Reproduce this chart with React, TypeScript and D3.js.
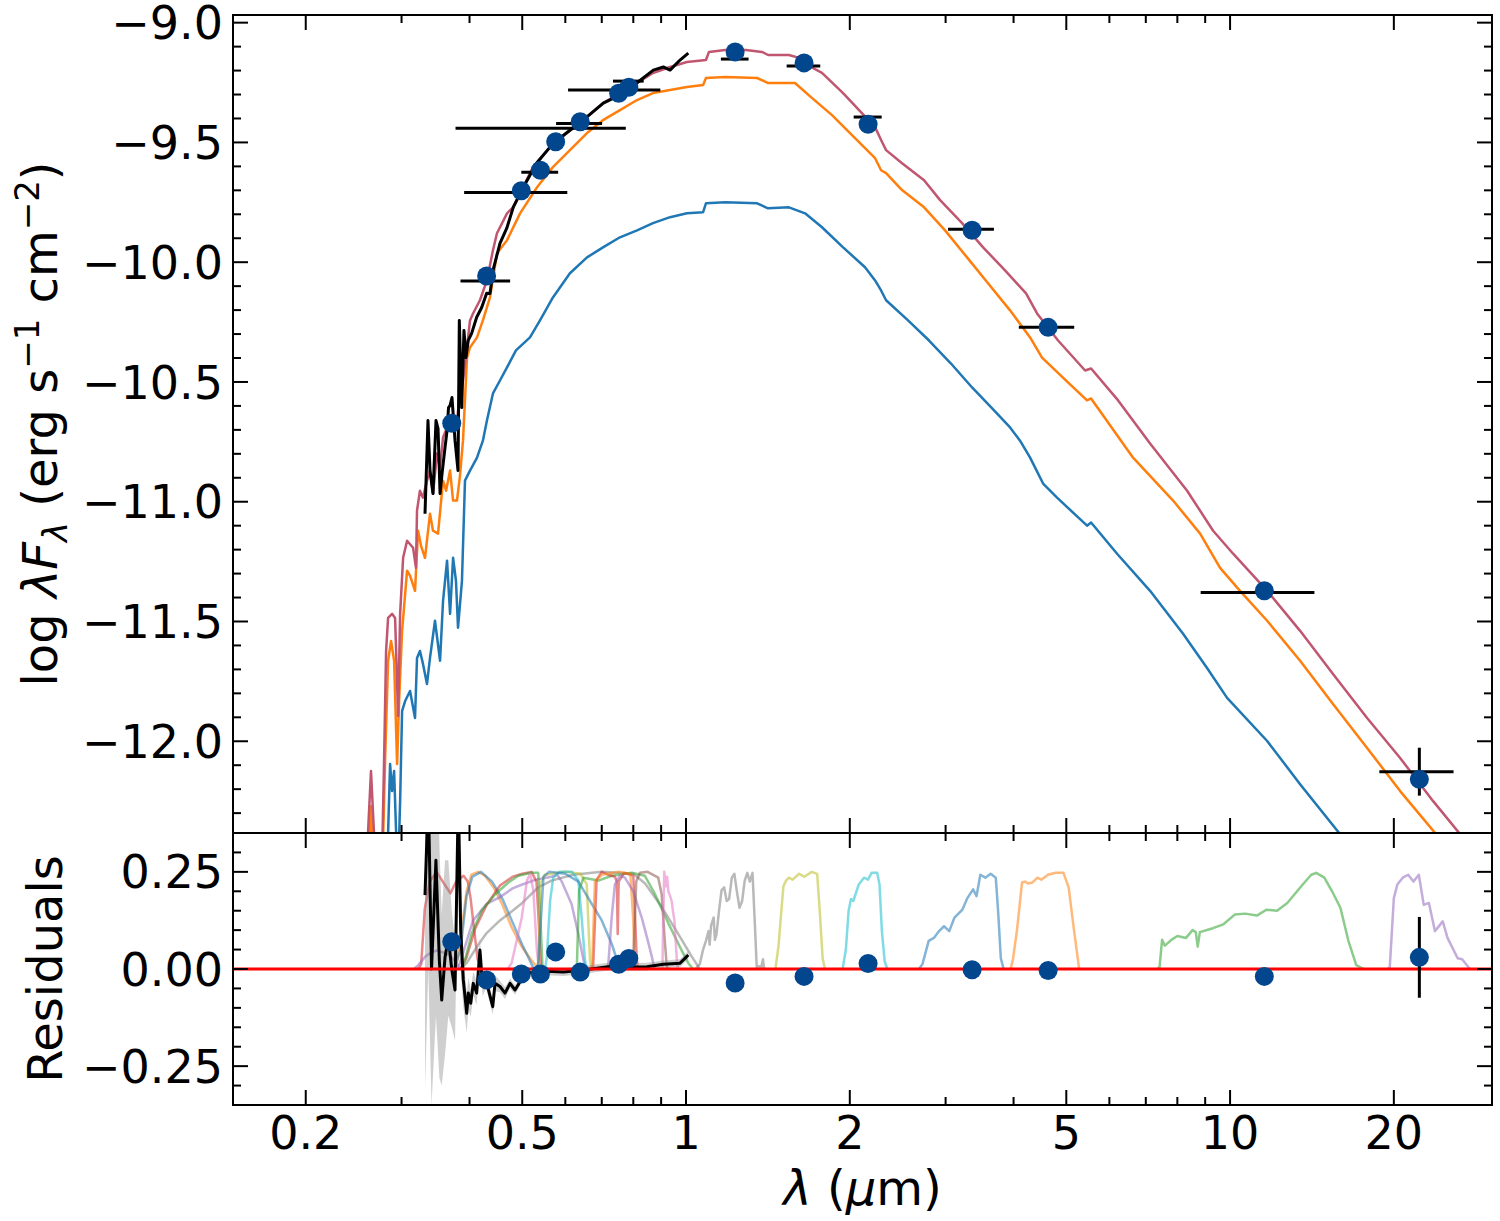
import React from "react";
import * as d3 from "d3";

// ---- photometry (wavelength in micron, log lambda F_lambda) ----
const photWl = [0.371, 0.43, 0.498, 0.54, 0.576, 0.639, 0.752, 0.785, 1.231, 1.648, 2.161, 3.356, 4.63, 11.56, 22.28];
const photWlErr = [0, 0.045, 0.107, 0.042, 0.199, 0.062, 0.145, 0.051, 0.072, 0.117, 0.128, 0.325, 0.54, 2.73, 3.47];
const photFlux = [-10.672, -10.058, -9.702, -9.616, -9.497, -9.414, -9.295, -9.27, -9.122, -9.168, -9.424, -9.867, -10.272, -11.372, -12.159];
const photBarFlux = [-10.672, -10.079, -9.709, -9.625, -9.441, -9.421, -9.281, -9.244, -9.152, -9.181, -9.394, -9.862, -10.272, -11.379, -12.127];
const photFluxErr = [0, 0, 0, 0, 0, 0, 0, 0, 0, 0, 0, 0, 0, 0, 0.1];
const photResid = [0.07, -0.028, -0.013, -0.013, 0.044, -0.008, 0.012, 0.027, -0.036, -0.019, 0.014, -0.002, -0.004, -0.019, 0.03];
const photResidErr = [0, 0, 0, 0, 0, 0, 0, 0, 0, 0, 0, 0, 0, 0, 0.104];

// ---- model SEDs ----
const modelTotal = [
  [0.257, -12.542], [0.2603, -12.383], [0.2636, -12.124], [0.267, -12.383], [0.2704, -12.584], [0.2762, -12.5],
  [0.2786, -12.082], [0.281, -11.623], [0.2834, -11.485], [0.2882, -11.468], [0.2919, -11.485], [0.2957, -11.894],
  [0.2982, -11.468], [0.302, -11.234], [0.3071, -11.163], [0.315, -11.192], [0.3189, -11.276], [0.3203, -11.037],
  [0.3243, -10.954], [0.3285, -10.983], [0.3341, -10.912], [0.3384, -10.87], [0.3427, -10.966], [0.3486, -10.799],
  [0.3531, -10.857], [0.3576, -10.732], [0.3637, -10.69], [0.3684, -10.661], [0.3731, -10.69], [0.3793, -10.661],
  [0.3842, -10.548], [0.3891, -10.494], [0.3958, -10.356], [0.4008, -10.243], [0.406, -10.214], [0.418, -10.159],
  [0.4306, -10.076], [0.4417, -9.95], [0.4493, -9.879], [0.4688, -9.796], [0.4808, -9.771], [0.4954, -9.712],
  [0.5233, -9.603], [0.5623, -9.52], [0.6042, -9.461], [0.6577, -9.394], [0.7037, -9.336], [0.7561, -9.294],
  [0.8128, -9.252], [0.8696, -9.21], [0.9346, -9.185], [1.004, -9.164], [1.088, -9.156], [1.102, -9.122],
  [1.18, -9.114], [1.289, -9.114], [1.379, -9.122], [1.415, -9.135], [1.546, -9.135], [1.62, -9.148],
  [1.697, -9.185], [1.778, -9.21], [1.944, -9.294], [2.08, -9.365], [2.226, -9.436], [2.283, -9.49],
  [2.332, -9.532], [2.495, -9.587], [2.739, -9.658], [2.931, -9.741], [3.217, -9.837], [3.516, -9.938],
  [3.858, -10.034], [4.217, -10.13], [4.418, -10.214], [4.829, -10.327], [5.414, -10.452], [5.553, -10.444],
  [6.226, -10.577], [7.128, -10.757], [8.337, -10.954], [9.307, -11.121], [10.13, -11.217], [11.7, -11.372],
  [13.45, -11.539], [15.46, -11.719], [17.86, -11.903], [20.54, -12.07], [23.62, -12.25], [26.48, -12.388],
  [28.21, -12.48],
];
const modelPrimary = [
  [0.2603, -12.542], [0.2636, -12.271], [0.267, -12.542], [0.2762, -12.584], [0.2798, -12.082], [0.2834, -11.664],
  [0.287, -11.581], [0.2907, -11.664], [0.2944, -12.095], [0.2969, -11.832], [0.3007, -11.539], [0.3071, -11.288],
  [0.311, -11.309], [0.3176, -11.372], [0.3217, -11.121], [0.3258, -11.184], [0.3313, -11.234], [0.3384, -11.05],
  [0.3427, -11.121], [0.3501, -11.133], [0.3576, -10.912], [0.3622, -10.954], [0.3684, -10.87], [0.3731, -10.995],
  [0.3793, -10.995], [0.3842, -10.891], [0.3891, -10.745], [0.3958, -10.398], [0.4008, -10.356], [0.4129, -10.314],
  [0.4233, -10.243], [0.4362, -10.147], [0.4493, -9.963], [0.4688, -9.908], [0.4954, -9.796], [0.5323, -9.687],
  [0.5693, -9.603], [0.6118, -9.532], [0.6577, -9.461], [0.7037, -9.407], [0.7561, -9.365], [0.8128, -9.323],
  [0.8696, -9.294], [0.9346, -9.281], [1.004, -9.269], [1.075, -9.26], [1.088, -9.231], [1.18, -9.227],
  [1.351, -9.231], [1.415, -9.252], [1.586, -9.252], [1.697, -9.311], [1.855, -9.386], [2.036, -9.478],
  [2.226, -9.566], [2.283, -9.616], [2.332, -9.628], [2.495, -9.699], [2.739, -9.771], [2.993, -9.867],
  [3.285, -9.98], [3.59, -10.088], [3.941, -10.201], [4.29, -10.314], [4.512, -10.398], [5.058, -10.506],
  [5.459, -10.577], [5.553, -10.569], [6.633, -10.816], [7.857, -10.995], [8.809, -11.133], [9.586, -11.276],
  [10.43, -11.372], [11.7, -11.497], [13.45, -11.664], [15.46, -11.844], [17.86, -12.028], [20.54, -12.208],
  [23.92, -12.388], [25.16, -12.459],
];
const modelSecondary = [
  [0.281, -12.668], [0.2834, -12.383], [0.2858, -12.095], [0.2882, -12.208], [0.2907, -12.124], [0.2932, -12.383],
  [0.2957, -12.542], [0.2982, -12.25], [0.3007, -11.873], [0.3046, -11.832], [0.311, -11.79], [0.3176, -11.903],
  [0.3203, -11.652], [0.3243, -11.623], [0.3285, -11.677], [0.3341, -11.761], [0.3384, -11.652], [0.3456, -11.497],
  [0.3531, -11.664], [0.3576, -11.414], [0.3637, -11.246], [0.3684, -11.468], [0.3731, -11.234], [0.3777, -11.33],
  [0.381, -11.526], [0.3874, -11.33], [0.3924, -10.912], [0.4008, -10.87], [0.4129, -10.816], [0.4233, -10.745],
  [0.4306, -10.661], [0.4417, -10.548], [0.455, -10.494], [0.4688, -10.439], [0.4869, -10.368], [0.5166, -10.314],
  [0.539, -10.243], [0.5693, -10.147], [0.6118, -10.046], [0.6577, -9.98], [0.7037, -9.938], [0.7561, -9.896],
  [0.8128, -9.867], [0.8696, -9.837], [0.9346, -9.812], [1.004, -9.796], [1.075, -9.791], [1.088, -9.754],
  [1.18, -9.75], [1.351, -9.754], [1.415, -9.775], [1.546, -9.771], [1.655, -9.796], [1.778, -9.854],
  [1.944, -9.938], [2.133, -10.021], [2.226, -10.076], [2.283, -10.118], [2.332, -10.159], [2.559, -10.243],
  [2.797, -10.327], [3.069, -10.423], [3.356, -10.523], [3.683, -10.619], [3.941, -10.69], [4.111, -10.745],
  [4.29, -10.816], [4.532, -10.924], [4.808, -10.983], [5.459, -11.1], [5.553, -11.087], [6.199, -11.217],
  [7.128, -11.372], [8.196, -11.551], [9.072, -11.694], [9.874, -11.819], [11.7, -11.999], [13.45, -12.179],
  [15.93, -12.388], [16.97, -12.48],
];

// ---- observed spectrum ----
const specObs = [
  [0.3313, -11.05], [0.3355, -10.661], [0.3384, -10.87], [0.3427, -10.966], [0.3471, -10.661], [0.3501, -10.695],
  [0.3531, -10.966], [0.3561, -10.883], [0.3606, -10.774], [0.3637, -10.703], [0.366, -10.607], [0.3684, -10.598],
  [0.3714, -10.565], [0.3762, -10.745], [0.381, -10.87], [0.3831, -10.243], [0.387, -10.607], [0.3907, -10.285],
  [0.394, -10.398], [0.3979, -10.326], [0.4036, -10.297], [0.4123, -10.23], [0.4211, -10.189], [0.4301, -10.13],
  [0.4362, -10.131], [0.4423, -10.03], [0.455, -9.921], [0.4683, -9.858], [0.4815, -9.77], [0.5023, -9.687],
  [0.5316, -9.586], [0.5703, -9.503], [0.6118, -9.449], [0.6566, -9.394], [0.7047, -9.336], [0.7561, -9.302],
  [0.8116, -9.252], [0.8708, -9.198], [0.9085, -9.185], [0.9346, -9.198], [0.975, -9.156], [1.0097, -9.127],
];
const specResWl = [
  0.3313, 0.336, 0.3406, 0.347, 0.3521, 0.3556, 0.3606, 0.3657, 0.371, 0.3762, 0.3815, 0.3853, 0.3896, 0.3953,
  0.398, 0.402, 0.4064, 0.4123, 0.418, 0.4229, 0.4289, 0.4349, 0.4413, 0.4456, 0.455, 0.4648, 0.4748, 0.485,
  0.4954, 0.5023, 0.5204, 0.5546, 0.5948, 0.6383, 0.6851, 0.7355, 0.789, 0.8469, 0.9085, 0.975, 1.0097,
];
const specRes = [
  0.19, 0.45, 0.0, 0.28, 0.02, -0.08, 0.03, 0.08, 0.0, -0.054, 0.45, 0.1, -0.028, -0.114,
  -0.062, -0.088, -0.037, -0.062, 0.049, -0.045, -0.028, -0.062, -0.097, -0.037, -0.045, -0.062, -0.037, -0.054,
  -0.033, -0.005, -0.01, -0.006, -0.008, -0.004, 0.002, 0.008, 0.005, 0.006, 0.012, 0.015, 0.036,
];
const specResErr = [
  0.5, 0.45, 0.35, 0.4, 0.3, 0.22, 0.25, 0.2, 0.15, 0.13, 0.12, 0.1, 0.07, 0.05,
  0.04, 0.035, 0.03, 0.03, 0.03, 0.025, 0.02, 0.02, 0.02, 0.02, 0.015, 0.015, 0.012, 0.012,
  0.01, 0.01, 0.01, 0.01, 0.01, 0.01, 0.01, 0.01, 0.01, 0.01, 0.01, 0.01, 0.01,
];

// ---- filter transmission curves (normalised) ----
const fU = [[0.322, 0], [0.326, 0.05], [0.331, 0.62], [0.338, 0.9], [0.348, 1.0], [0.359, 0.88], [0.369, 0.78], [0.378, 0.9], [0.39, 0.96], [0.397, 0.9], [0.402, 0.72], [0.407, 0.45], [0.414, 0.1], [0.42, 0]];
const fUv = [[0.316, 0], [0.322, 0.04], [0.332, 0.13], [0.34, 0.17], [0.348, 0.19], [0.358, 0.17], [0.368, 0.14], [0.376, 0.08], [0.383, 0.02], [0.39, 0]];
const fB = [[0.372, 0], [0.379, 0.06], [0.387, 0.4], [0.395, 0.8], [0.403, 0.97], [0.415, 1.0], [0.427, 0.96], [0.443, 0.84], [0.459, 0.67], [0.478, 0.43], [0.499, 0.23], [0.52, 0.09], [0.532, 0.02], [0.54, 0]];
const fBT = [[0.375, 0], [0.385, 0.2], [0.395, 0.75], [0.405, 0.95], [0.42, 1.0], [0.44, 0.9], [0.46, 0.72], [0.48, 0.48], [0.5, 0.25], [0.515, 0.1], [0.525, 0]];
const fBP = [[0.378, 0], [0.384, 0.06], [0.406, 0.5], [0.43, 0.67], [0.455, 0.74], [0.48, 0.83], [0.5, 0.87], [0.53, 0.92], [0.566, 0.95], [0.58, 0.97], [0.591, 0.9], [0.616, 0.67], [0.634, 0.36], [0.648, 0.09], [0.655, 0]];
const fSg = [[0.385, 0], [0.395, 0.12], [0.41, 0.42], [0.43, 0.66], [0.455, 0.86], [0.48, 0.95], [0.5, 0.98], [0.52, 1.0], [0.531, 0.9], [0.536, 0.5], [0.54, 0.1], [0.543, 0]];
const fg = [[0.385, 0], [0.3895, 0.02], [0.4035, 0.36], [0.421, 0.6], [0.446, 0.77], [0.4715, 0.89], [0.4918, 0.96], [0.52, 0.99], [0.535, 0.99], [0.54, 0.5], [0.545, 0]];
const fG = [[0.385, 0], [0.395, 0.06], [0.415, 0.25], [0.43, 0.37], [0.455, 0.5], [0.48, 0.6], [0.5, 0.68], [0.535, 0.84], [0.566, 0.91], [0.62, 0.97], [0.7, 1.0], [0.8, 0.98], [0.841, 0.88], [0.902, 0.64], [0.968, 0.36], [1.024, 0.13], [1.06, 0]];
const fV1 = [[0.47, 0], [0.478, 0.06], [0.499, 0.53], [0.51, 0.91], [0.517, 0.98], [0.524, 0.81], [0.532, 0.19], [0.537, 0]];
const fV = [[0.532, 0], [0.536, 0.1], [0.54, 0.88], [0.55, 0.97], [0.6, 1.0], [0.64, 0.98], [0.657, 0.87], [0.666, 0.09], [0.67, 0]];
const fr = [[0.551, 0], [0.555, 0.13], [0.5626, 0.7], [0.57, 0.94], [0.585, 1.0], [0.617, 1.0], [0.634, 0.91], [0.643, 0.53], [0.652, 0.09], [0.656, 0]];
const fVT = [[0.53, 0], [0.535, 0.05], [0.547, 0.95], [0.56, 1.0], [0.6, 0.98], [0.634, 0.9], [0.671, 0.67], [0.7, 0.5], [0.73, 0.26], [0.75, 0.06], [0.76, 0]];
const fRP = [[0.625, 0], [0.63, 0.02], [0.636, 0.81], [0.648, 0.94], [0.69, 0.91], [0.73, 0.96], [0.795, 0.99], [0.84, 0.96], [0.877, 0.77], [0.928, 0.47], [0.982, 0.19], [1.01, 0.06], [1.03, 0]];
const fi = [[0.67, 0], [0.675, 0.02], [0.685, 0.92], [0.7, 1.0], [0.72, 0.97], [0.74, 0.95], [0.746, 0.9], [0.749, 0.36], [0.752, 0.9], [0.77, 0.99], [0.8, 0.96], [0.806, 0.54], [0.812, 0.09], [0.816, 0]];
const fR = [[0.672, 0], [0.68, 0.9], [0.7, 0.97], [0.75, 1.0], [0.79, 0.98], [0.8, 0.5], [0.805, 0]];
const fI = [[0.715, 0], [0.72, 0.06], [0.73, 0.53], [0.74, 0.87], [0.756, 0.96], [0.772, 0.94], [0.8, 0.8], [0.829, 0.53], [0.85, 0.3], [0.865, 0.13], [0.875, 0]];
const fz = [[0.795, 0], [0.8, 0.1], [0.81, 0.9], [0.823, 0.99], [0.85, 1.0], [0.889, 0.94], [0.902, 0.77], [0.915, 0.26], [0.922, 0.02], [0.93, 0]];
const fy = [[0.905, 0], [0.908, 0.5], [0.912, 1.0], [0.918, 0.85], [0.923, 0.95], [0.928, 0.8], [0.935, 0.75], [0.941, 0.7], [0.946, 0.6], [0.952, 0.5], [0.962, 0.09], [0.966, 0]];
const fJ = [[1.04, 0], [1.06, 0.05], [1.075, 0.2], [1.088, 0.29], [1.1, 0.39], [1.105, 0.25], [1.112, 0.45], [1.124, 0.53], [1.13, 0.3], [1.137, 0.35], [1.15, 0.6], [1.162, 0.81], [1.175, 0.84], [1.188, 0.7], [1.2, 0.72], [1.214, 0.94], [1.227, 0.98], [1.24, 0.8], [1.254, 0.63], [1.268, 0.7], [1.282, 0.91], [1.296, 0.99], [1.31, 0.9], [1.325, 0.99], [1.34, 0.39], [1.349, 0.01], [1.36, 0.03], [1.375, 0.02], [1.385, 0.1], [1.391, 0.01], [1.4, 0]];
const fH = [[1.46, 0], [1.48, 0.25], [1.495, 0.56], [1.51, 0.85], [1.527, 0.91], [1.545, 0.94], [1.57, 0.92], [1.614, 0.98], [1.65, 0.95], [1.703, 1.0], [1.742, 0.98], [1.763, 0.56], [1.783, 0.11], [1.8, 0]];
const fKs = [[1.94, 0], [1.967, 0.2], [1.99, 0.6], [2.01, 0.72], [2.03, 0.7], [2.077, 0.87], [2.124, 0.94], [2.16, 0.92], [2.193, 0.99], [2.246, 0.99], [2.268, 0.87], [2.291, 0.39], [2.318, 0.08], [2.344, 0]];
const fW1 = [[2.68, 0], [2.72, 0.05], [2.793, 0.29], [2.855, 0.32], [2.918, 0.39], [2.98, 0.44], [3.047, 0.39], [3.115, 0.53], [3.22, 0.61], [3.29, 0.73], [3.37, 0.82], [3.42, 0.75], [3.475, 0.97], [3.55, 0.94], [3.63, 0.98], [3.71, 0.94], [3.75, 0.56], [3.79, 0.11], [3.835, 0]];
const fW2 = [[3.95, 0], [3.99, 0.1], [4.056, 0.39], [4.146, 0.89], [4.2, 0.9], [4.25, 0.88], [4.33, 0.89], [4.426, 0.94], [4.5, 0.92], [4.626, 0.97], [4.78, 0.99], [4.94, 0.99], [5.05, 0.84], [5.16, 0.42], [5.28, 0]];
const fW3 = [[7.35, 0], [7.42, 0.02], [7.5, 0.3], [7.59, 0.24], [7.8, 0.3], [8.0, 0.34], [8.3, 0.32], [8.53, 0.4], [8.65, 0.38], [8.72, 0.23], [8.8, 0.38], [9.3, 0.42], [9.72, 0.46], [10.2, 0.56], [10.66, 0.57], [11.2, 0.55], [11.66, 0.61], [12.2, 0.6], [12.74, 0.68], [13.6, 0.87], [14.1, 0.97], [14.4, 0.99], [14.9, 0.94], [15.4, 0.8], [15.95, 0.63], [16.5, 0.29], [17.06, 0.04], [17.6, 0]];
const fW4 = [[19.5, 0], [19.66, 0.02], [20.0, 0.73], [20.3, 0.87], [20.77, 0.94], [21.25, 0.97], [21.73, 0.9], [22.23, 0.97], [22.7, 0.66], [23.2, 0.68], [23.8, 0.39], [24.6, 0.49], [25.1, 0.32], [26.2, 0.11], [26.7, 0.1], [27.6, 0]];

const filterCurves = [fU, fUv, fB, fBT, fBP, fSg, fg, fG, fV1, fV, fr, fVT, fRP, fi, fR, fI, fz, fy, fJ, fH, fKs, fW1, fW2, fW3, fW4];
const filterColors = [
  "#d62728", "#9467bd", "#ff7f0e", "#1f77b4", "#9467bd", "#d62728", "#2ca02c", "#7f7f7f", "#e377c2", "#bcbd22",
  "#17becf", "#1f77b4", "#2ca02c", "#d62728", "#ff7f0e", "#9467bd", "#8c564b", "#e377c2", "#7f7f7f", "#bcbd22",
  "#17becf", "#1f77b4", "#ff7f0e", "#2ca02c", "#9467bd",
];

// ---- axes ----
const xMajor = [0.2, 0.5, 1, 2, 5, 10, 20];
const xMajorLabels = ["0.2", "0.5", "1", "2", "5", "10", "20"];
const xMinor = [0.3, 0.4, 0.6, 0.7, 0.8, 0.9, 3, 4, 6, 7, 8, 9];
const yTopMajor = [-12.0, -11.5, -11.0, -10.5, -10.0, -9.5, -9.0];
const yTopLabels = ["\u221212.0", "\u221211.5", "\u221211.0", "\u221210.5", "\u221210.0", "\u22129.5", "\u22129.0"];
const yBotMajor = [-0.25, 0, 0.25];
const yBotLabels = ["\u22120.25", "0.00", "0.25"];

const W = 1500;
const H = 1221;
const LX = 233;
const RX = 1492;
const TOPY = 15;
const MIDY = 833;
const BOTY = 1105;
const FONT = "DejaVu Sans, sans-serif";

export default function App() {
  const x = d3.scaleLog().domain([0.147, 30.3]).range([LX, RX]);
  const yT = d3.scaleLinear().domain([-12.383, -8.968]).range([MIDY, TOPY]);
  const yB = d3.scaleLinear().domain([-0.35, 0.35]).range([BOTY, MIDY]);

  const lineT = d3.line<number[]>().x((d) => x(d[0])).y((d) => yT(d[1]));
  const lineF = d3.line<number[]>().x((d) => x(d[0])).y((d) => yB(0.25 * d[1]));
  const resPts = specResWl.map((w, i) => [w, specRes[i], specResErr[i]]);
  const lineR = d3.line<number[]>().x((d) => x(d[0])).y((d) => yB(d[1]));
  const bandR = d3
    .area<number[]>()
    .x((d) => x(d[0]))
    .y0((d) => yB(d[1] - d[2]))
    .y1((d) => yB(d[1] + d[2]));

  const yTopMinor = d3.range(-123, -89).map((v) => v / 10).filter((v) => Math.abs(v * 2 - Math.round(v * 2)) > 1e-6);
  const yBotMinor = d3.range(-7, 8).map((v) => v * 0.05).filter((v) => Math.abs(v * 4 - Math.round(v * 4)) > 1e-6);

  const tickW = 2;
  const maj = 15;
  const mnr = 8;

  const xTicks = (y0: number, dir: number, key: string) => (
    <g key={key} stroke="#000" strokeWidth={tickW}>
      {xMajor.map((v) => (
        <line key={"M" + v} x1={x(v)} x2={x(v)} y1={y0} y2={y0 + dir * maj} />
      ))}
      {xMinor.map((v) => (
        <line key={"m" + v} x1={x(v)} x2={x(v)} y1={y0} y2={y0 + dir * mnr} />
      ))}
    </g>
  );
  const yTicks = (scale: any, major: number[], minor: number[], key: string) => (
    <g key={key} stroke="#000" strokeWidth={tickW}>
      {major.map((v) => (
        <g key={"M" + v}>
          <line x1={LX} x2={LX + maj} y1={scale(v)} y2={scale(v)} />
          <line x1={RX} x2={RX - maj} y1={scale(v)} y2={scale(v)} />
        </g>
      ))}
      {minor.map((v) => (
        <g key={"m" + v}>
          <line x1={LX} x2={LX + mnr} y1={scale(v)} y2={scale(v)} />
          <line x1={RX} x2={RX - mnr} y1={scale(v)} y2={scale(v)} />
        </g>
      ))}
    </g>
  );

  const dotColor = "#02478e";

  return (
    <svg width={W} height={H} style={{ position: "absolute", left: 0, top: 0, background: "#fff" }} fontFamily={FONT}>
      <defs>
        <clipPath id="clipTop">
          <rect x={LX} y={TOPY} width={RX - LX} height={MIDY - TOPY} />
        </clipPath>
        <clipPath id="clipBot">
          <rect x={LX} y={MIDY} width={RX - LX} height={BOTY - MIDY} />
        </clipPath>
      </defs>
      <rect x={0} y={0} width={W} height={H} fill="#fff" />

      {/* top panel */}
      <g clipPath="url(#clipTop)" fill="none" strokeLinejoin="round">
        <path d={lineT(modelSecondary) || ""} stroke="#1f77b4" strokeWidth={2.5} />
        <path d={lineT(modelPrimary) || ""} stroke="#ff7f0e" strokeWidth={2.5} />
        <path d={lineT(modelTotal) || ""} stroke="#c0566f" strokeWidth={2.5} />
        <path d={lineT(specObs) || ""} stroke="#000" strokeWidth={3} />
        {photWl.map((w, i) => (
          <g key={"eb" + i} stroke="#000" strokeWidth={3}>
            {photWlErr[i] > 0 && (
              <line x1={x(w - photWlErr[i])} x2={x(w + photWlErr[i])} y1={yT(photBarFlux[i])} y2={yT(photBarFlux[i])} />
            )}
            {photFluxErr[i] > 0 && (
              <line x1={x(w)} x2={x(w)} y1={yT(photBarFlux[i] - photFluxErr[i])} y2={yT(photBarFlux[i] + photFluxErr[i])} />
            )}
          </g>
        ))}
        {photWl.map((w, i) => (
          <circle key={"pt" + i} cx={x(w)} cy={yT(photFlux[i])} r={9.5} fill={dotColor} stroke="none" />
        ))}
      </g>

      {/* bottom panel */}
      <g clipPath="url(#clipBot)" fill="none" strokeLinejoin="round">
        {filterCurves.map((f, i) => (
          <path key={"f" + i} d={lineF(f) || ""} stroke={filterColors[i]} strokeOpacity={0.55} strokeWidth={2.5} />
        ))}
        <path d={bandR(resPts) || ""} fill="#888" fillOpacity={0.4} stroke="none" />
        <path d={lineR(resPts) || ""} stroke="#000" strokeWidth={3} />
        <line x1={LX} x2={RX} y1={yB(0)} y2={yB(0)} stroke="#ff0000" strokeWidth={3} />
        {photWl.map((w, i) =>
          photResidErr[i] > 0 ? (
            <line key={"re" + i} x1={x(w)} x2={x(w)} y1={yB(photResid[i] - photResidErr[i])} y2={yB(photResid[i] + photResidErr[i])} stroke="#000" strokeWidth={3} />
          ) : null
        )}
        {photWl.map((w, i) => (
          <circle key={"rp" + i} cx={x(w)} cy={yB(photResid[i])} r={9.5} fill={dotColor} stroke="none" />
        ))}
      </g>

      {/* ticks */}
      {xTicks(TOPY, 1, "xt1")}
      {xTicks(MIDY, -1, "xt2")}
      {xTicks(MIDY, 1, "xt3")}
      {xTicks(BOTY, -1, "xt4")}
      {yTicks(yT, yTopMajor, yTopMinor, "yt1")}
      {yTicks(yB, yBotMajor, yBotMinor, "yt2")}

      {/* frames */}
      <rect x={LX} y={TOPY} width={RX - LX} height={MIDY - TOPY} fill="none" stroke="#000" strokeWidth={2} />
      <rect x={LX} y={MIDY} width={RX - LX} height={BOTY - MIDY} fill="none" stroke="#000" strokeWidth={2} />

      {/* tick labels */}
      <g fontSize={46} fill="#000">
        {yTopMajor.map((v, i) => (
          <text key={"ytl" + i} x={223} y={yT(v)} dy="0.36em" textAnchor="end">
            {yTopLabels[i]}
          </text>
        ))}
        {yBotMajor.map((v, i) => (
          <text key={"ybl" + i} x={223} y={yB(v)} dy="0.36em" textAnchor="end">
            {yBotLabels[i]}
          </text>
        ))}
        {xMajor.map((v, i) => (
          <text key={"xtl" + i} x={x(v)} y={1149} textAnchor="middle">
            {xMajorLabels[i]}
          </text>
        ))}
      </g>

      {/* axis labels */}
      <text x={(LX + RX) / 2} y={1205} textAnchor="middle" fontSize={48}>
        <tspan fontStyle="italic">λ</tspan>
        {" ("}
        <tspan fontStyle="italic">μ</tspan>
        {"m)"}
      </text>
      <text transform={`translate(57,${(TOPY + MIDY) / 2}) rotate(-90)`} textAnchor="middle" fontSize={48}>
        {"log "}
        <tspan fontStyle="italic">λF</tspan>
        <tspan fontStyle="italic" fontSize={34} dy={10}>λ</tspan>
        <tspan dy={-10}>{" (erg s"}</tspan>
        <tspan fontSize={34} dy={-18}>−1</tspan>
        <tspan dy={18}>{" cm"}</tspan>
        <tspan fontSize={34} dy={-18}>−2</tspan>
        <tspan dy={18}>)</tspan>
      </text>
      <text transform={`translate(62,${(MIDY + BOTY) / 2}) rotate(-90)`} textAnchor="middle" fontSize={48}>
        Residuals
      </text>
    </svg>
  );
}
